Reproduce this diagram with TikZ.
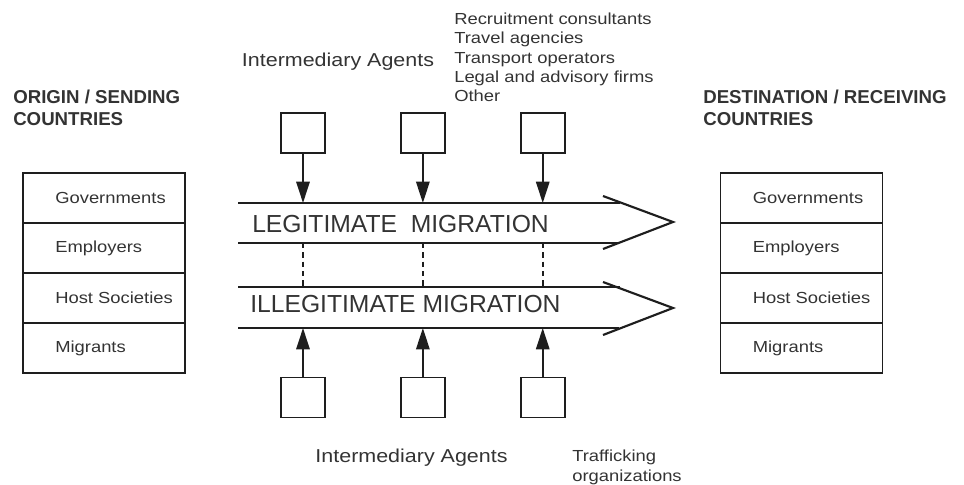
\documentclass[tikz,border=0pt]{standalone}
\usepackage{fontspec}
\setmainfont{Liberation Sans}
\newfontfamily\widesans[FakeStretch=1.15]{Liberation Sans}
\usetikzlibrary{arrows.meta,positioning}
\definecolor{MigInk}{HTML}{1E1E1E}
\definecolor{MigText}{HTML}{333333}

\begin{document}
\begin{tikzpicture}[
    x=0.75pt,y=-0.75pt,
    row/.style={draw=MigInk,line width=1.4pt,minimum width=121.5pt,minimum height=37.5pt,
      inner sep=0pt,outer sep=0pt},
    rowtext/.style={anchor=west,xshift=24pt,inner sep=0pt,text=MigText,
      font=\widesans\fontsize{12}{14}\selectfont},
    agent/.style={draw=MigInk,line width=1.4pt,minimum width=33pt,minimum height=30pt,inner sep=0pt},
    head/.style={anchor=north west,align=left,inner sep=0pt,text=MigText,
      font=\bfseries\fontsize{14}{16.3}\selectfont},
    small/.style={inner sep=0pt,text=MigText,font=\widesans\fontsize{12}{14.5}\selectfont},
    flow/.style={inner sep=0pt,anchor=west,text=MigText,font=\fontsize{18.5}{22}\selectfont},
    band/.style={line width=1.6pt,draw=MigInk},
    feed/.style={-{Triangle[length=16pt,width=10pt]},line width=1.5pt,draw=MigInk},
    link/.style={line width=1.4pt,draw=MigInk,dash pattern=on 4pt off 3pt}
  ]
    \useasboundingbox (0,0) rectangle (964,485);

    \node[head] (orighead) at (13,90) {ORIGIN / SENDING\\COUNTRIES};
    \node[head] (desthead) at (703,90) {DESTINATION / RECEIVING\\COUNTRIES};

    \node[row,label={[rowtext]west:Governments}] (og1) at (104,198) {};
    \node[row,below=0pt of og1,label={[rowtext]west:Employers}] (og2) {};
    \node[row,below=0pt of og2,label={[rowtext]west:Host Societies}] (og3) {};
    \node[row,below=0pt of og3,label={[rowtext]west:Migrants}] (og4) {};

    \node[row,label={[rowtext]west:Governments}] (dg1) at (801.5,198) {};
    \node[row,below=0pt of dg1,label={[rowtext]west:Employers}] (dg2) {};
    \node[row,below=0pt of dg2,label={[rowtext]west:Host Societies}] (dg3) {};
    \node[row,below=0pt of dg3,label={[rowtext]west:Migrants}] (dg4) {};

    \coordinate (legtop) at (238,203);
    \coordinate (legbot) at (238,243);
    \coordinate (illtop) at (238,287);
    \coordinate (illbot) at (238,328);
    \draw[band] (legtop) -- ++(382,0);
    \draw[band] (legbot) -- ++(381,0);
    \draw[band] (603,196) -- (673,222) -- (603,249);
    \draw[band] (illtop) -- ++(382,0);
    \draw[band] (illbot) -- ++(381,0);
    \draw[band] (603,282) -- (673,308) -- (603,335);

    \node[flow] (legal) at (252,223.8) {LEGITIMATE\ \ MIGRATION};
    \node[flow] (illegal) at (250,303.7) {ILLEGITIMATE MIGRATION};

    \node[agent] (ta1) at (303,133) {};
    \node[agent,right=55.5pt of ta1] (ta2) {};
    \node[agent,right=55.5pt of ta2] (ta3) {};
    \node[agent] (ba1) at (303,397.5) {};
    \node[agent,right=55.5pt of ba1] (ba2) {};
    \node[agent,right=55.5pt of ba2] (ba3) {};

    \foreach \i in {1,2,3} {
      \draw[feed] (ta\i) -- (ta\i |- legtop);
      \draw[feed] (ba\i) -- (ba\i |- illbot);
      \draw[link] (ta\i |- legbot) -- (ta\i |- illtop);
    }

    \node[small,anchor=base,font=\widesans\fontsize{14}{17}\selectfont] (agtop) at (338,67) {Intermediary Agents};
    \node[small,anchor=north west,align=left] (agtypes) at (454,12.5)
      {Recruitment consultants\\Travel agencies\\Transport operators\\Legal and advisory firms\\Other};
    \node[small,anchor=base,font=\widesans\fontsize{14}{17}\selectfont] (agbot) at (411.5,462) {Intermediary Agents};
    \node[small,anchor=north west,align=left] (traffic) at (572,450) {Trafficking\\organizations};
  \end{tikzpicture}
\end{document}
